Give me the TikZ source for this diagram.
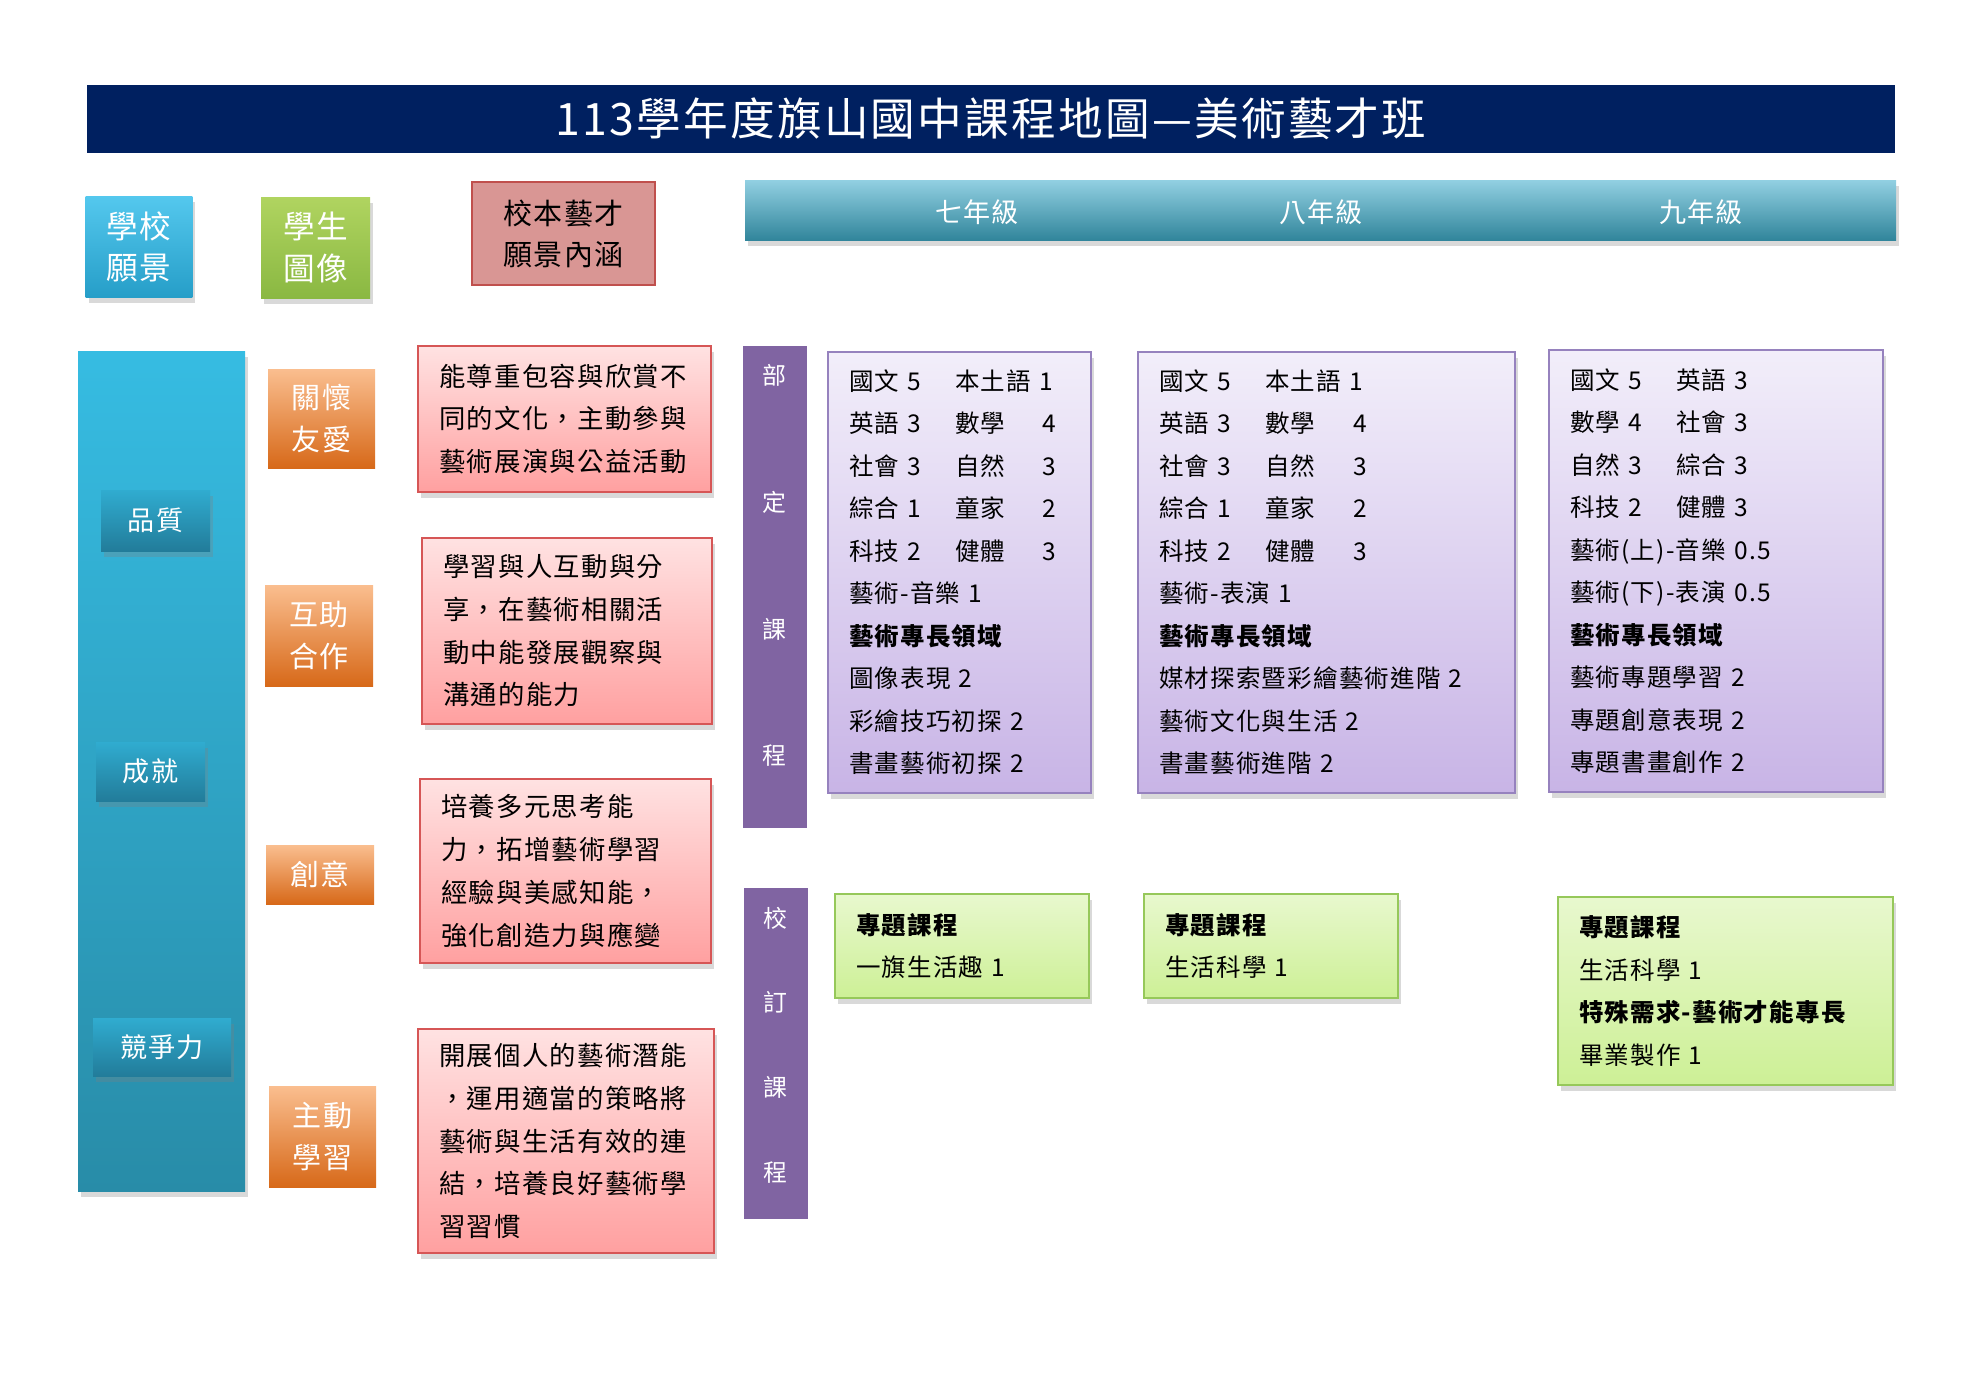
\documentclass[tikz,border=0pt]{standalone}
\usepackage{fontspec}
\setmainfont{Noto Sans CJK TC}[LetterSpace=5]
\usetikzlibrary{shadows}
\definecolor{titlenavy}{RGB}{0,32,96}
\definecolor{yeartop}{RGB}{146,208,226}
\definecolor{yearbottom}{RGB}{49,133,155}
\definecolor{visiontop}{RGB}{84,200,238}
\definecolor{visionbottom}{RGB}{38,158,200}
\definecolor{portraittop}{RGB}{176,212,96}
\definecolor{portraitbottom}{RGB}{138,184,66}
\definecolor{connotationfill}{RGB}{217,150,148}
\definecolor{connotationdraw}{RGB}{192,80,77}
\definecolor{tealtop}{RGB}{54,188,226}
\definecolor{tealbottom}{RGB}{40,140,168}
\definecolor{tagtop}{RGB}{48,172,208}
\definecolor{tagbottom}{RGB}{34,124,154}
\definecolor{orangetop}{RGB}{250,190,143}
\definecolor{orangebottom}{RGB}{215,105,25}
\definecolor{pinktop}{RGB}{255,226,226}
\definecolor{pinkbottom}{RGB}{255,160,160}
\definecolor{pinkdraw}{RGB}{214,86,86}
\definecolor{plum}{RGB}{128,100,162}
\definecolor{lilactop}{RGB}{242,238,250}
\definecolor{lilacbottom}{RGB}{200,180,230}
\definecolor{lilacdraw}{RGB}{150,130,190}
\definecolor{limetop}{RGB}{232,248,206}
\definecolor{limebottom}{RGB}{205,240,150}
\definecolor{limedraw}{RGB}{150,200,90}
\newcommand{\leftcol}[1]{\makebox[1.06cm][l]{#1}}
\newcommand{\numcol}[1]{\makebox[0.88cm][l]{#1}}

\begin{document}
\begin{tikzpicture}
            \tikzstyle{every node} = [rectangle, inner ysep=0pt, inner xsep=0.21cm]
            \tikzstyle{shadowed} = [drop shadow={opacity=0.3, shadow xshift=0.03cm, shadow yshift=-0.06cm}]
            \tikzstyle{headtext} = [text=white, font=\fontsize{7.7pt}{11pt}\selectfont]
            \tikzstyle{bigtag} = [shadowed, text=white, align=center, font=\fontsize{9pt}{11.7pt}\selectfont]
            \tikzstyle{tealtag} = [shadowed, top color=tagtop, bottom color=tagbottom, text=white, font=\fontsize{7.7pt}{11pt}\selectfont]
            \tikzstyle{orangebox} = [top color=orangetop, bottom color=orangebottom, text=white, align=center, font=\fontsize{8.25pt}{11.95pt}\selectfont]
            \tikzstyle{pinkbox} = [shadowed, draw=pinkdraw, thick, top color=pinktop, bottom color=pinkbottom, align=left, font=\fontsize{7.5pt}{12.15pt}\selectfont]
            \tikzstyle{plumbar} = [fill=plum]
            \tikzstyle{plumtext} = [text=white, align=center, inner xsep=0pt]
            \tikzstyle{lilacbox} = [shadowed, draw=lilacdraw, top color=lilactop, bottom color=lilacbottom, align=left, font=\fontsize{6.97pt}{12.09pt}\selectfont]
            \tikzstyle{limebox} = [shadowed, draw=limedraw, thick, top color=limetop, bottom color=limebottom, align=left, font=\fontsize{6.97pt}{12.1pt}\selectfont]

            \useasboundingbox (0,0) rectangle (19.8,-14);

            \node[fill=titlenavy, minimum width=18.08cm, minimum height=0.68cm, text=white, font=\fontsize{12.7pt}{14pt}\selectfont] (title) at (9.91,-1.19) {113學年度旗山國中課程地圖—美術藝才班};

            \node[shadowed, top color=yeartop, bottom color=yearbottom, minimum width=11.51cm, minimum height=0.6cm] (yearbar) at (13.205,-2.1) {};
            \node[headtext] (grade7) at (9.77,-2.12) {七年級};
            \node[headtext] (grade8) at (13.21,-2.12) {八年級};
            \node[headtext] (grade9) at (17.01,-2.12) {九年級};

            \node[bigtag, top color=visiontop, bottom color=visionbottom, minimum width=1.06cm, minimum height=1.01cm] (vision) at (1.39,-2.465) {學校\\願景};
            \node[bigtag, top color=portraittop, bottom color=portraitbottom, minimum width=1.09cm, minimum height=1.01cm] (portrait) at (3.155,-2.475) {學生\\圖像};
            \node[fill=connotationfill, draw=connotationdraw, thick, minimum width=1.83cm, minimum height=1.03cm, align=center, font=\fontsize{8.25pt}{11.7pt}\selectfont] (connotation) at (5.635,-2.335) {校本藝才\\願景內涵};

            \node[shadowed, top color=tealtop, bottom color=tealbottom, minimum width=1.67cm, minimum height=8.4cm] (pillar) at (1.615,-7.71) {};
            \node[tealtag, minimum width=1.09cm, minimum height=0.61cm] (quality) at (1.555,-5.205) {品質};
            \node[tealtag, minimum width=1.09cm, minimum height=0.59cm] (achieve) at (1.505,-7.715) {成就};
            \node[tealtag, minimum width=1.38cm, minimum height=0.58cm] (compete) at (1.62,-10.47) {競爭力};

            \node[orangebox, minimum width=1.07cm, minimum height=0.99cm] (caring) at (3.215,-4.185) {關懷\\友愛};
            \node[orangebox, minimum width=1.08cm, minimum height=1.01cm] (teamwork) at (3.19,-6.355) {互助\\合作};
            \node[orangebox, minimum width=1.08cm, minimum height=0.59cm] (creative) at (3.2,-8.745) {創意};
            \node[orangebox, minimum width=1.07cm, minimum height=1.01cm] (active) at (3.225,-11.365) {主動\\學習};

            \node[pinkbox, minimum width=2.93cm, minimum height=1.46cm, text width=2.51cm] (respect) at (5.645,-4.19) {能尊重包容與欣賞不\\同的文化，主動參與\\藝術展演與公益活動};
            \node[pinkbox, minimum width=2.9cm, minimum height=1.86cm, text width=2.48cm] (share) at (5.67,-6.31) {學習與人互動與分\\享，在藝術相關活\\動中能發展觀察與\\溝通的能力};
            \node[pinkbox, minimum width=2.91cm, minimum height=1.84cm, text width=2.49cm] (think) at (5.655,-8.71) {培養多元思考能\\力，拓增藝術學習\\經驗與美感知能，\\強化創造力與應變};
            \node[pinkbox, minimum width=2.96cm, minimum height=2.24cm, text width=2.54cm] (potential) at (5.66,-11.41) {開展個人的藝術潛能\\，運用適當的策略將\\藝術與生活有效的連\\結，培養良好藝術學\\習習慣};

            \node[plumbar, minimum width=0.64cm, minimum height=4.82cm] (required) at (7.75,-5.87) {};
            \node[plumtext, font=\fontsize{6.8pt}{36.1pt}\selectfont] (requiredlabel) at (7.74,-5.655) {部\\定\\課\\程};
            \node[plumbar, minimum width=0.64cm, minimum height=3.31cm] (elective) at (7.76,-10.535) {};
            \node[plumtext, font=\fontsize{6.8pt}{24.1pt}\selectfont] (electivelabel) at (7.75,-10.45) {校\\訂\\課\\程};

            \node[lilacbox, minimum width=2.63cm, minimum height=4.41cm, text width=2.21cm] (seventh) at (9.595,-5.725) {\leftcol{國文 5}本土語 1\\\leftcol{英語 3}\numcol{數學}4\\\leftcol{社會 3}\numcol{自然}3\\\leftcol{綜合 1}\numcol{童家}2\\\leftcol{科技 2}\numcol{健體}3\\藝術-音樂 1\\\textbf{藝術專長領域}\\圖像表現 2\\彩繪技巧初探 2\\書畫藝術初探 2};
            \node[lilacbox, minimum width=3.77cm, minimum height=4.41cm, text width=3.35cm] (eighth) at (13.265,-5.725) {\leftcol{國文 5}本土語 1\\\leftcol{英語 3}\numcol{數學}4\\\leftcol{社會 3}\numcol{自然}3\\\leftcol{綜合 1}\numcol{童家}2\\\leftcol{科技 2}\numcol{健體}3\\藝術-表演 1\\\textbf{藝術專長領域}\\媒材探索暨彩繪藝術進階 2\\藝術文化與生活 2\\書畫藝術進階 2};
            \node[lilacbox, minimum width=3.34cm, minimum height=4.42cm, text width=2.92cm] (ninth) at (17.16,-5.71) {\leftcol{國文 5}英語 3\\\leftcol{數學 4}社會 3\\\leftcol{自然 3}綜合 3\\\leftcol{科技 2}健體 3\\藝術(上)-音樂 0.5\\藝術(下)-表演 0.5\\\textbf{藝術專長領域}\\藝術專題學習 2\\專題創意表現 2\\專題書畫創作 2};

            \node[limebox, minimum width=2.54cm, minimum height=1.04cm, text width=2.12cm] (topic7) at (9.62,-9.46) {\textbf{專題課程}\\一旗生活趣 1};
            \node[limebox, minimum width=2.54cm, minimum height=1.04cm, text width=2.12cm] (topic8) at (12.71,-9.46) {\textbf{專題課程}\\生活科學 1};
            \node[limebox, minimum width=3.35cm, minimum height=1.88cm, text width=2.93cm] (topic9) at (17.255,-9.91) {\textbf{專題課程}\\生活科學 1\\\textbf{特殊需求-藝術才能專長}\\畢業製作 1};
        \end{tikzpicture}
\end{document}
